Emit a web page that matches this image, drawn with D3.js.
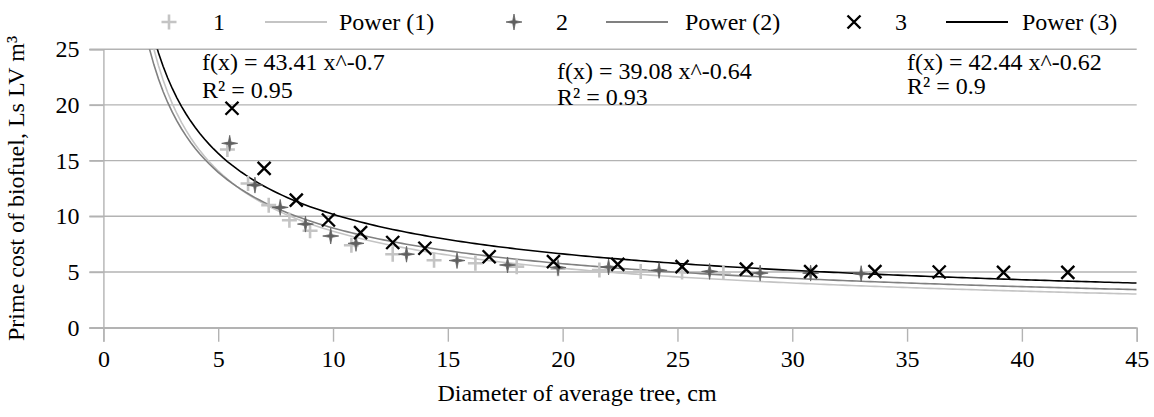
<!DOCTYPE html>
<html><head><meta charset="utf-8">
<script src="https://cdn.jsdelivr.net/npm/d3@7"></script>
<style>
html,body{margin:0;padding:0;background:#fff;}
</style></head>
<body><svg id="chart" width="1154" height="417"></svg>
<script>
// ---- data ----
const xTicks = [0,5,10,15,20,25,30,35,40,45];
const yTicks = [0,5,10,15,20,25];
const seriesNames = ["1","2","3"];
const trendNames = ["Power (1)","Power (2)","Power (3)"];
const xs1 = [5.4,6.3,7.2,8.1,9.0,10.8,12.6,14.4,16.2,18.0,19.8,21.6,23.4,25.2,27.0];
const ys1 = [16.0,12.95,11.0,9.65,8.7,7.4,6.6,6.05,5.78,5.48,5.3,5.18,5.05,5.0,4.95];
const xs2 = [5.5,6.6,7.7,8.8,9.9,11.0,13.2,15.4,17.6,19.8,22.0,24.2,26.4,28.6,30.8,33.0];
const ys2 = [16.55,12.8,10.8,9.3,8.23,7.57,6.6,6.03,5.63,5.4,5.45,5.15,5.05,4.9,4.9,4.85];
const xs3 = [5.6,7.0,8.4,9.8,11.2,12.6,14.0,16.8,19.6,22.4,25.2,28.0,30.8,33.6,36.4,39.2,42.0];
const ys3 = [19.7,14.3,11.45,9.67,8.53,7.65,7.13,6.37,5.93,5.69,5.48,5.25,5.03,5.03,5.0,4.97,4.97];
const powerA = [43.41,39.08,42.44];
const powerB = [-0.7,-0.64,-0.62];
const eqLabels = ["f(x) = 43.41 x^-0.7","f(x) = 39.08 x^-0.64","f(x) = 42.44 x^-0.62"];
const r2Labels = ["R² = 0.95","R² = 0.93","R² = 0.9"];
const xTitle = "Diameter of average tree, cm";
const yTitle = "Prime cost of biofuel, Ls LV m³";

// ---- styles ----
const FONT = "'Liberation Serif', 'Times New Roman', Times, serif";
const markerColors = ["#c4c4c4","#606060","#000000"];
const lineColors = ["#c4c4c4","#808080","#000000"];
const gridColor = "#b3b3b3";
const FS = 24;

const svg = d3.select("#chart");
const x = d3.scaleLinear().domain([0,45]).range([103.4,1136.7]);
const y = d3.scaleLinear().domain([0,25]).range([327.7,49.2]);

function txt(sel){ return sel.style("font-family",FONT).style("font-size",FS+"px").attr("fill","#000"); }

// gridlines
svg.append("g").selectAll("line").data(yTicks).join("line")
  .attr("x1",x(0)-14).attr("x2",x(45))
  .attr("y1",d=>y(d)).attr("y2",d=>y(d))
  .attr("stroke",gridColor).attr("stroke-width",1.4);

// x axis
const xa = svg.append("g").attr("transform",`translate(0,${y(0)})`)
  .call(d3.axisBottom(x).tickValues(xTicks).tickSize(14).tickPadding(8).tickFormat(d3.format("d")));
xa.attr("font-family",null).attr("font-size",null);
xa.select(".domain").attr("stroke",gridColor).attr("stroke-width",1.4);
xa.selectAll(".tick line").attr("stroke",gridColor).attr("stroke-width",1.4);
txt(xa.selectAll("text"));

// y axis
const ya = svg.append("g").attr("transform",`translate(${x(0)},0)`)
  .call(d3.axisLeft(y).tickValues(yTicks).tickSize(14).tickPadding(10).tickFormat(d3.format("d")));
ya.attr("font-family",null).attr("font-size",null);
ya.select(".domain").attr("stroke",gridColor).attr("stroke-width",1.4);
ya.selectAll(".tick line").attr("stroke",gridColor).attr("stroke-width",1.4);
txt(ya.selectAll("text"));

// clip
svg.append("clipPath").attr("id","plotclip").append("rect")
  .attr("x",x(0)).attr("y",y(25)).attr("width",x(45)-x(0)).attr("height",y(0)-y(25));

// trendlines
const sampleX = d3.range(0.6,45.01,0.2);
const lineGen = d3.line().x(d=>x(d[0])).y(d=>y(d[1]));
const tg = svg.append("g").attr("clip-path","url(#plotclip)");
powerA.forEach((a,i)=>{
  const pts = sampleX.map(v=>[v, a*Math.pow(v,powerB[i])]).filter(p=>p[1]<60);
  tg.append("path").attr("d",lineGen(pts)).attr("fill","none")
    .attr("stroke",lineColors[i]).attr("stroke-width",1.6);
});

// marker symbols
const plusSym = {draw(ctx,size){const r=size; ctx.moveTo(-r,0);ctx.lineTo(r,0);ctx.moveTo(0,-r);ctx.lineTo(0,r);}};
const timesSym = {draw(ctx,size){const r=size; ctx.moveTo(-r,-r);ctx.lineTo(r,r);ctx.moveTo(r,-r);ctx.lineTo(-r,r);}};
const starSym = {draw(ctx,size){const r=size, k=r*0.16;
  ctx.moveTo(0,-r);ctx.lineTo(k,-k);ctx.lineTo(r,0);ctx.lineTo(k,k);ctx.lineTo(0,r);ctx.lineTo(-k,k);ctx.lineTo(-r,0);ctx.lineTo(-k,-k);ctx.closePath();}};

function drawMarker(g, i, cx, cy){
  if(i===0){
    g.append("path").attr("d",d3.symbol(plusSym,7.5)()).attr("transform",`translate(${cx},${cy})`)
      .attr("fill","none").attr("stroke",markerColors[0]).attr("stroke-width",2.6);
  } else if(i===1){
    g.append("path").attr("d",d3.symbol(starSym,8)()).attr("transform",`translate(${cx},${cy})`)
      .attr("fill",markerColors[1]).attr("stroke",markerColors[1]).attr("stroke-width",0.8);
  } else {
    g.append("path").attr("d",d3.symbol(timesSym,6.5)()).attr("transform",`translate(${cx},${cy})`)
      .attr("fill","none").attr("stroke",markerColors[2]).attr("stroke-width",2.4);
  }
}

const seriesX=[xs1,xs2,xs3], seriesY=[ys1,ys2,ys3];
const mg = svg.append("g");
seriesX.forEach((xsArr,i)=>{
  xsArr.forEach((v,j)=>drawMarker(mg,i,x(v),y(seriesY[i][j])));
});

// equations
const eqPos = [[202,70,98],[557,79,105],[907,70,94]];
eqLabels.forEach((t,i)=>{
  txt(svg.append("text").attr("x",eqPos[i][0]).attr("y",eqPos[i][1])).text(t);
  txt(svg.append("text").attr("x",eqPos[i][0]).attr("y",eqPos[i][2])).text(r2Labels[i]);
});

// legend
const lg = svg.append("g");
const legY = 22;
const markerX = [169,514,854];
const numX = [213,556,895];
const lineX = [[265,327],[606,668],[946,1008]];
const trendTextX = [339,685,1022];
seriesNames.forEach((n,i)=>{
  drawMarker(lg,i,markerX[i],legY);
  txt(lg.append("text").attr("x",numX[i]).attr("y",legY+8)).text(n);
  lg.append("line").attr("x1",lineX[i][0]).attr("x2",lineX[i][1]).attr("y1",legY).attr("y2",legY)
    .attr("stroke",lineColors[i]).attr("stroke-width",1.8);
  txt(lg.append("text").attr("x",trendTextX[i]).attr("y",legY+8)).text(trendNames[i]);
});

// axis titles
txt(svg.append("text").attr("x",577).attr("y",401).attr("text-anchor","middle")).text(xTitle);
txt(svg.append("text").attr("transform",`translate(24,${(y(0)+y(25))/2})rotate(-90)`)
  .attr("text-anchor","middle")).text(yTitle);
</script></body></html>
